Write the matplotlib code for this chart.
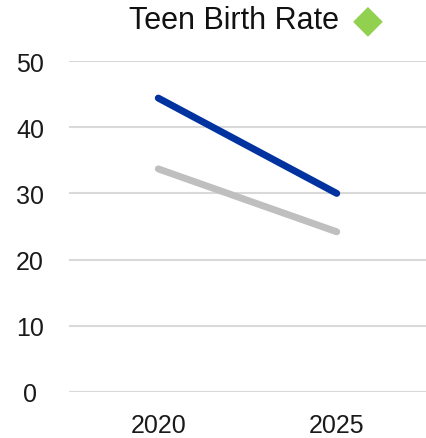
import numpy as np
import matplotlib.pyplot as plt

plt.rcParams['font.family'] = ['Liberation Sans', 'DejaVu Sans']

years = ["2020", "2025"]
teen_rate = [44.4, 30.0]
comparison = [33.7, 24.2]
y_ticks = [0, 10, 20, 30, 40, 50]

fig = plt.figure(figsize=(4.27, 4.39), dpi=100)
ax = fig.add_axes([69 / 427, (439 - 393) / 439, (426 - 69) / 427, (393 - 62) / 439])

x = np.arange(len(years))
ax.plot(x, comparison, color='#BFBFBF', linewidth=5, solid_capstyle='round')
ax.plot(x, teen_rate, color='#0033A0', linewidth=5, solid_capstyle='round')

ax.set_xlim(-0.5, len(years) - 0.5)
ax.set_ylim(0, 50)
ax.set_xticks(x)
ax.set_xticklabels(years)
ax.set_yticks(y_ticks)
ax.yaxis.grid(True, color='#D9D9D9', linewidth=1.5)
ax.set_axisbelow(True)
for s in ax.spines.values():
    s.set_visible(False)
ax.tick_params(length=0, labelsize=18, colors='#1a1a1a')
ax.tick_params(axis='x', pad=15)
for lab in ax.get_yticklabels():
    lab.set_horizontalalignment('center')
ax.yaxis.set_tick_params(pad=28)

fig.text(234 / 427, 1 - 21 / 439, "Teen Birth Rate", ha='center', va='center',
         fontsize=22, color='#111111')
fig.text(368 / 427, 1 - 20 / 439, "\u25C6", ha='center', va='center',
         fontsize=28, color='#92D050', family='DejaVu Sans')

plt.savefig('out.png', dpi=100, facecolor='white')
